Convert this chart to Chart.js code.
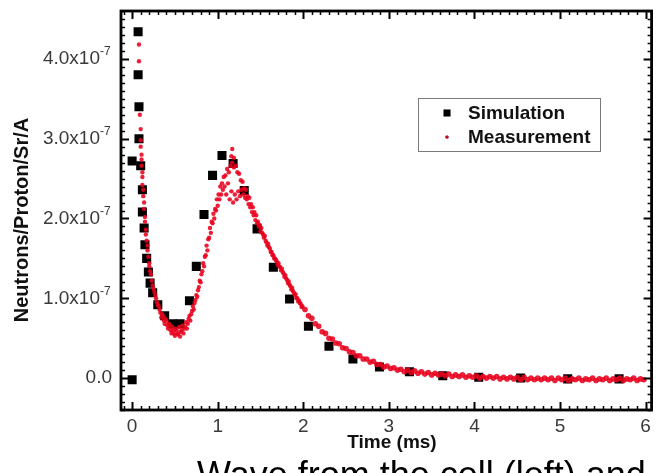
<!DOCTYPE html>
<html>
<head>
<meta charset="utf-8">
<title>Neutron yield vs time</title>
<script src="https://cdn.jsdelivr.net/npm/chart.js@4.4.1/dist/chart.umd.min.js"></script>
<style>
  html, body { margin: 0; padding: 0; background: #fff; overflow: hidden; }
  #wrap { position: relative; width: 658px; height: 473px; overflow: hidden; }
  #caption {
    position: absolute; left: 197px; top: 457px;
    font: 36px "Liberation Sans", Arial, sans-serif; line-height: 36px;
    color: #000; white-space: nowrap;
  }
</style>
</head>
<body>
<div id="wrap">
  <canvas id="myChart" width="658" height="473"></canvas>
  <div id="caption">Wave from the cell (left) and</div>
</div>
<script>
// values on the y axis are in units of 1e-7 neutrons/proton/sr/A
const simT = [0.00, 0.00, 0.07, 0.07, 0.08, 0.08, 0.10, 0.12, 0.12, 0.14, 0.15, 0.17, 0.19, 0.21, 0.24,
  0.30, 0.38, 0.47, 0.56, 0.67, 0.75, 0.84, 0.94, 1.05, 1.18, 1.31, 1.46, 1.65, 1.84, 2.06, 2.30,
  2.58, 2.89, 3.24, 3.63, 4.05, 4.54, 5.09, 5.69];
const simY = [-0.02, 2.72, 4.34, 3.80, 3.40, 3.00, 2.66, 2.36, 2.08, 1.88, 1.67, 1.50, 1.33, 1.19, 1.07,
  0.92, 0.78, 0.68, 0.68, 0.97, 1.40, 2.05, 2.54, 2.79, 2.69, 2.35, 1.87, 1.39, 0.99, 0.65, 0.40,
  0.24, 0.14, 0.08, 0.03, 0.01, 0.00, -0.01, -0.01];

// measured trace, first pass [t (ms), value]
const measTraceA = [
  [0.08, 4.18], [0.08, 3.97], [0.09, 3.30], [0.10, 3.12], [0.10, 2.98], [0.11, 2.80], [0.11, 2.66],
  [0.12, 2.52], [0.13, 2.36], [0.14, 2.20], [0.15, 2.02], [0.16, 1.86], [0.17, 1.72], [0.18, 1.60],
  [0.20, 1.44], [0.21, 1.34], [0.23, 1.22], [0.25, 1.12], [0.27, 1.04], [0.29, 0.95], [0.31, 0.90],
  [0.33, 0.82], [0.35, 0.80], [0.37, 0.72], [0.39, 0.74], [0.41, 0.66], [0.43, 0.68], [0.45, 0.60],
  [0.47, 0.64], [0.49, 0.56], [0.51, 0.62], [0.53, 0.55], [0.55, 0.64], [0.57, 0.58], [0.59, 0.66],
  [0.61, 0.62], [0.63, 0.70], [0.65, 0.68], [0.67, 0.78], [0.69, 0.80], [0.71, 0.90], [0.73, 0.94],
  [0.75, 1.04], [0.77, 1.10], [0.79, 1.22], [0.81, 1.30], [0.83, 1.44], [0.85, 1.52], [0.87, 1.66],
  [0.89, 1.74], [0.91, 1.88], [0.93, 1.96], [0.95, 2.06], [0.97, 2.12], [0.99, 2.24], [1.01, 2.30],
  [1.03, 2.40], [1.05, 2.44], [1.07, 2.52], [1.09, 2.54], [1.11, 2.62], [1.13, 2.58], [1.15, 2.66],
  [1.17, 2.70], [1.19, 2.64], [1.21, 2.66], [1.23, 2.58], [1.25, 2.56], [1.27, 2.48], [1.29, 2.46],
  [1.31, 2.38], [1.33, 2.36], [1.35, 2.28], [1.37, 2.26], [1.39, 2.18], [1.41, 2.14], [1.43, 2.08],
  [1.45, 2.04], [1.47, 1.96], [1.49, 1.92], [1.51, 1.88], [1.53, 1.80], [1.55, 1.78], [1.57, 1.70],
  [1.59, 1.68], [1.61, 1.62], [1.63, 1.58], [1.65, 1.54], [1.67, 1.50], [1.69, 1.46], [1.71, 1.44],
  [1.73, 1.39], [1.75, 1.37], [1.77, 1.31], [1.79, 1.29], [1.81, 1.23], [1.83, 1.21], [1.85, 1.15],
  [1.87, 1.13], [1.89, 1.07], [1.91, 1.05], [1.93, 1.00], [1.95, 0.97], [1.97, 0.93], [1.99, 0.90]
];

// second pass, slightly offset in time
const measTraceB = [
  [0.10, 2.90], [0.11, 2.74], [0.12, 2.58], [0.12, 2.42], [0.13, 2.28], [0.14, 2.12], [0.15, 1.96],
  [0.16, 1.80], [0.18, 1.66], [0.19, 1.52], [0.20, 1.40], [0.22, 1.30], [0.24, 1.16], [0.26, 1.08],
  [0.28, 1.00], [0.30, 0.92], [0.32, 0.86], [0.34, 0.76], [0.36, 0.78], [0.38, 0.68], [0.40, 0.72],
  [0.42, 0.62], [0.44, 0.66], [0.46, 0.56], [0.48, 0.60], [0.50, 0.53], [0.52, 0.60], [0.54, 0.56],
  [0.56, 0.52], [0.58, 0.60], [0.60, 0.56], [0.62, 0.64], [0.64, 0.62], [0.66, 0.74], [0.68, 0.72],
  [0.70, 0.84], [0.72, 0.86], [0.74, 0.98], [0.76, 1.02], [0.78, 1.14], [0.80, 1.20], [0.82, 1.34],
  [0.84, 1.40], [0.86, 1.54], [0.88, 1.60], [0.90, 1.76], [0.92, 1.82], [0.94, 1.94], [0.96, 2.00],
  [0.98, 2.10], [1.00, 2.16], [1.02, 2.24], [1.04, 2.30], [1.06, 2.36], [1.08, 2.40], [1.10, 2.30],
  [1.12, 2.44], [1.14, 2.24], [1.16, 2.34], [1.18, 2.20], [1.20, 2.30], [1.22, 2.24], [1.24, 2.34],
  [1.26, 2.28], [1.28, 2.36], [1.30, 2.30], [1.32, 2.26], [1.34, 2.24], [1.36, 2.18], [1.38, 2.14],
  [1.40, 2.08], [1.42, 2.04], [1.44, 1.98], [1.46, 1.94], [1.48, 1.90], [1.50, 1.84], [1.52, 1.82],
  [1.54, 1.76], [1.56, 1.72], [1.58, 1.66], [1.60, 1.64], [1.62, 1.58], [1.64, 1.54], [1.66, 1.50],
  [1.68, 1.48], [1.70, 1.42], [1.72, 1.40], [1.74, 1.35], [1.76, 1.33], [1.78, 1.27], [1.80, 1.25],
  [1.82, 1.19], [1.84, 1.17], [1.86, 1.11], [1.88, 1.09], [1.90, 1.04], [1.92, 1.00], [1.94, 0.96],
  [1.96, 0.94], [1.98, 0.89], [1.16, 2.78], [1.17, 2.87], [1.19, 2.76]
];

// decay tail after 2 ms
const measTail = [
  [2.02, 0.86], [2.06, 0.78], [2.10, 0.75], [2.14, 0.68], [2.18, 0.65], [2.22, 0.58], [2.26, 0.56],
  [2.30, 0.50], [2.34, 0.49], [2.38, 0.44], [2.42, 0.43], [2.46, 0.38], [2.50, 0.37], [2.54, 0.33],
  [2.58, 0.32], [2.62, 0.28], [2.66, 0.28], [2.70, 0.24], [2.74, 0.24], [2.78, 0.20], [2.82, 0.21],
  [2.86, 0.17], [2.90, 0.17], [2.94, 0.14], [2.98, 0.15], [3.02, 0.12], [3.06, 0.13], [3.10, 0.10],
  [3.14, 0.11], [3.18, 0.08], [3.22, 0.10], [3.26, 0.07], [3.30, 0.09], [3.34, 0.06], [3.38, 0.08],
  [3.42, 0.05], [3.46, 0.07], [3.50, 0.04], [3.54, 0.06], [3.58, 0.04], [3.62, 0.05], [3.66, 0.03],
  [3.70, 0.05], [3.74, 0.02], [3.78, 0.04], [3.82, 0.02], [3.86, 0.04], [3.90, 0.01], [3.94, 0.03],
  [3.98, 0.01], [4.02, 0.03], [4.06, 0.00], [4.10, 0.02], [4.14, 0.00], [4.18, 0.02], [4.22, 0.00],
  [4.26, 0.02], [4.30, -0.01], [4.34, 0.01], [4.38, -0.01], [4.42, 0.01], [4.46, -0.01], [4.50, 0.01],
  [4.54, -0.02], [4.58, 0.01], [4.62, -0.02], [4.66, 0.00], [4.70, -0.02], [4.74, 0.00], [4.78, -0.02],
  [4.82, 0.00], [4.86, -0.02], [4.90, 0.00], [4.94, -0.03], [4.98, 0.00], [5.02, -0.02], [5.06, 0.00],
  [5.10, -0.03], [5.14, -0.01], [5.18, -0.02], [5.22, 0.00], [5.26, -0.03], [5.30, -0.01], [5.34, -0.02],
  [5.38, 0.00], [5.42, -0.03], [5.46, -0.01], [5.50, -0.02], [5.54, 0.00], [5.58, -0.03], [5.62, -0.01],
  [5.66, -0.02], [5.70, 0.00], [5.74, -0.03], [5.78, -0.01], [5.82, -0.02], [5.86, 0.00], [5.90, -0.03],
  [5.94, -0.01], [5.98, -0.02]
];

const xTicks = [0, 1, 2, 3, 4, 5, 6];
const yTicks = [0, 1, 2, 3, 4];

const labelFont = '19px "Liberation Sans", Arial, sans-serif';
const titleFont = 'bold 19px "Liberation Sans", Arial, sans-serif';
const labelColor = "#3a3a3a";

// Origin-style box: thick frame, inward ticks on all four sides, labels and legend
const originFrame = {
  id: "originFrame",
  afterDraw: (chart) => {
    const { ctx, chartArea: a, scales } = chart;
    const xs = scales.x, ys = scales.y;
    ctx.save();
    ctx.strokeStyle = "#000";

    // ticks, minor every 0.1
    for (let k = -1; k <= 61; k++) {
      const v = k / 10;
      if (v < xs.min || v > xs.max) continue;
      const px = Math.round(xs.getPixelForValue(v)) + 0.5;
      const len = k % 10 === 0 ? 8 : 4;
      ctx.lineWidth = k % 10 === 0 ? 2 : 1.5;
      ctx.beginPath();
      ctx.moveTo(px, a.bottom); ctx.lineTo(px, a.bottom - len);
      ctx.moveTo(px, a.top); ctx.lineTo(px, a.top + len);
      ctx.stroke();
    }
    for (let k = -4; k <= 46; k++) {
      const v = k / 10;
      if (v < ys.min || v > ys.max) continue;
      const py = Math.round(ys.getPixelForValue(v)) + 0.5;
      const len = k % 10 === 0 ? 8 : 4;
      ctx.lineWidth = k % 10 === 0 ? 2 : 1.5;
      ctx.beginPath();
      ctx.moveTo(a.left, py); ctx.lineTo(a.left + len, py);
      ctx.moveTo(a.right, py); ctx.lineTo(a.right - len, py);
      ctx.stroke();
    }

    ctx.lineWidth = 2.8;
    ctx.strokeRect(a.left, a.top, a.right - a.left, a.bottom - a.top);

    // tick labels
    ctx.fillStyle = labelColor;
    ctx.font = labelFont;
    ctx.textBaseline = "middle";
    ctx.textAlign = "center";
    xTicks.forEach((v) => ctx.fillText(String(v), xs.getPixelForValue(v), 427));
    yTicks.forEach((v) => {
      const py = ys.getPixelForValue(v);
      ctx.font = labelFont;
      ctx.textAlign = "right";
      if (v === 0) {
        ctx.fillText("0.0", 112, py);
        return;
      }
      ctx.fillText(v.toFixed(1) + "x10", 100, py);
      ctx.font = '12px "Liberation Sans", Arial, sans-serif';
      ctx.textAlign = "left";
      ctx.fillText("-7", 100, py - 7);
    });

    // axis titles
    ctx.fillStyle = "#111";
    ctx.font = titleFont;
    ctx.textAlign = "center";
    ctx.fillText("Time (ms)", 392, 443);
    ctx.save();
    ctx.translate(22, 220);
    ctx.rotate(-Math.PI / 2);
    ctx.font = 'bold 20px "Liberation Sans", Arial, sans-serif';
    ctx.fillText("Neutrons/Proton/Sr/A", 0, 0);
    ctx.restore();

    // legend
    ctx.fillStyle = "#fff";
    ctx.fillRect(418, 98, 182, 53);
    ctx.lineWidth = 1;
    ctx.strokeStyle = "#7a7a7a";
    ctx.strokeRect(418.5, 98.5, 182, 53);
    const rows = [113, 137];
    chart.data.datasets.forEach((ds, i) => {
      Chart.helpers.drawPoint(ctx, {
        pointStyle: ds.pointStyle,
        radius: i === 0 ? 5 : 1.6,
        borderWidth: 0,
      }, 447, rows[i]);
      ctx.fillStyle = ds.backgroundColor;
      ctx.fill();
      ctx.fillStyle = "#111";
      ctx.font = 'bold 19px "Liberation Sans", Arial, sans-serif';
      ctx.textAlign = "left";
      ctx.fillText(ds.label, 468, rows[i] + 1);
    });
    ctx.restore();
  },
};

const toPoints = (pairs) => pairs.map(([t, v]) => ({ x: t, y: v }));

const ctx = document.getElementById("myChart");
const chart = new Chart(ctx, {
  type: "scatter",
  data: {
    datasets: [
      {
        label: "Simulation",
        data: simT.map((t, i) => ({ x: t, y: simY[i] })),
        pointStyle: "rect",
        pointRadius: 6.4,
        borderWidth: 0,
        backgroundColor: "#000",
        order: 2,
      },
      {
        label: "Measurement",
        data: toPoints(measTraceA.concat(measTraceB, measTail)),
        pointStyle: "circle",
        // tail points sit closer together and merge into a band
        pointRadius: (c) => (c.raw && c.raw.x > 2 ? 2.8 : 2.2),
        borderWidth: 0,
        backgroundColor: "rgba(232,0,28,0.88)",
        order: 1,
      },
    ],
  },
  options: {
    responsive: false,
    animation: false,
    devicePixelRatio: 1,
    layout: { padding: { left: 121, top: 11, right: 3, bottom: 63 } },
    scales: {
      x: { type: "linear", min: -0.13, max: 6.07, display: false },
      y: { type: "linear", min: -0.4, max: 4.6, display: false },
    },
    plugins: {
      legend: { display: false },
      tooltip: { enabled: false },
    },
  },
  plugins: [originFrame],
});
</script>
</body>
</html>
